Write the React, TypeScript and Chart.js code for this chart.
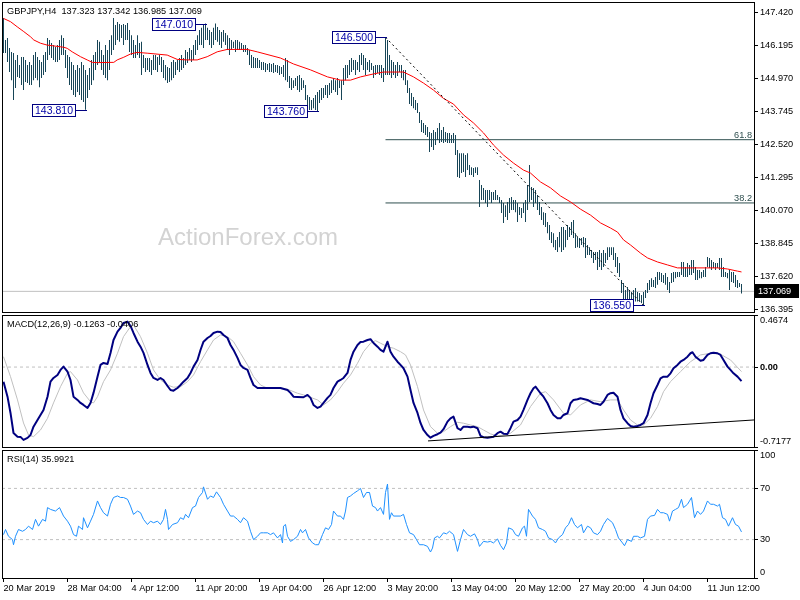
import React, { useEffect, useRef } from 'react';
import { Chart, registerables } from 'chart.js';

Chart.register(...registerables);

const FONT_FAMILY = '"Liberation Sans", Arial, sans-serif';
const SMALL = 9.2;

const titleText = 'GBPJPY,H4  137.323 137.342 136.985 137.069';
const macdTitle = 'MACD(12,26,9) -0.1263 -0.0406';
const rsiTitle = 'RSI(14) 35.9921';
const watermark = 'ActionForex.com';

const xTickIndex = [0, 32, 64, 96, 128, 160, 192, 224, 256, 288, 320, 352];
const xTickLabels = ['20 Mar 2019', '28 Mar 04:00', '4 Apr 12:00', '11 Apr 20:00', '19 Apr 04:00', '26 Apr 12:00', '3 May 20:00', '13 May 04:00', '20 May 12:00', '27 May 20:00', '4 Jun 04:00', '11 Jun 12:00'];

const priceTicks = [147.42, 146.195, 144.97, 143.745, 142.52, 141.295, 140.07, 138.845, 137.62, 136.395];
const macdTicks = [0.4674, 0, -0.7177];
const macdTickLabels = ['0.4674', '0.00', '-0.7177'];
const rsiTicks = [100, 70, 30, 0];
const rsiTickLabels = ['100', '70', '30', '0'];
const rsiLevels = [70, 30];

const lastPrice = 137.069;
const swingPoints = [
  { bar: 41, price: 143.81 },
  { bar: 101, price: 147.01 },
  { bar: 157, price: 143.76 },
  { bar: 191, price: 146.5 },
  { bar: 320, price: 136.55 },
];
const fibFrom = { bar: 191, price: 146.5 };
const fibTo = { bar: 320, price: 136.55 };
const fibLevels = [61.8, 38.2];
const macdTrend = [[212.25, -0.663], [375.25, -0.475]];

const barHigh = [
  147.22,146.40,146.47,146.10,145.95,145.92,145.66,145.84,145.47,145.77,
  145.77,145.66,145.47,145.58,145.47,145.84,145.95,145.77,145.66,145.58,
  145.84,145.95,146.47,146.40,146.29,146.21,146.14,146.21,146.40,146.58,
  146.47,146.03,145.84,145.77,145.58,145.47,145.29,145.47,145.36,145.58,
  145.47,145.29,145.10,145.36,145.66,145.84,145.95,146.40,146.33,146.03,
  145.84,146.21,146.03,146.40,146.58,147.22,146.96,147.07,146.99,146.96,
  146.99,146.96,147.03,146.77,146.58,146.40,146.21,146.58,146.29,146.33,
  145.84,145.73,145.73,145.73,145.66,145.84,145.84,145.77,145.84,145.77,
  145.66,145.47,145.40,145.36,145.58,145.66,145.58,145.66,145.73,145.84,
  145.73,146.03,145.95,146.10,146.03,146.21,146.40,146.58,146.77,146.85,
  146.96,147.01,146.85,146.77,146.70,146.85,147.01,146.88,146.77,146.70,
  146.77,146.66,146.58,146.47,146.40,146.33,146.40,146.40,146.33,146.29,
  146.21,146.21,146.10,146.03,145.84,145.77,145.73,145.73,145.66,145.58,
  145.58,145.55,145.51,145.55,145.51,145.55,145.47,145.47,145.43,145.40,
  145.47,145.73,145.66,145.06,144.99,144.91,144.99,145.06,145.10,144.99,
  144.91,144.73,144.36,144.28,144.17,144.25,144.36,144.47,144.54,144.62,
  144.62,144.73,144.73,144.80,144.91,144.99,144.91,144.99,144.91,144.91,
  145.36,145.47,145.47,145.66,145.73,145.66,145.66,145.58,145.84,145.92,
  145.84,145.73,145.58,145.66,145.55,145.43,145.47,145.47,145.47,145.47,
  145.36,146.50,146.40,145.84,145.66,145.58,145.47,145.58,145.47,145.47,
  145.29,145.29,144.91,144.62,144.43,144.28,144.17,144.06,143.73,143.43,
  143.32,143.24,143.17,142.98,142.95,143.06,142.98,143.13,143.32,143.06,
  143.17,142.98,142.95,142.95,142.87,142.95,142.87,142.32,142.20,142.20,
  142.20,142.13,142.20,141.76,141.68,141.65,141.68,141.68,141.20,141.02,
  140.91,140.83,140.83,140.83,140.76,140.76,140.83,140.65,140.57,140.46,
  140.35,140.27,140.39,140.53,140.57,140.46,140.46,140.35,140.20,140.16,
  140.35,140.46,141.02,141.76,140.94,140.91,140.83,140.65,140.39,140.20,
  140.01,139.98,139.64,139.53,139.27,139.23,138.98,139.09,139.27,139.46,
  139.46,139.35,139.53,139.46,139.64,139.72,139.23,139.09,139.05,139.05,
  139.09,139.05,138.79,138.71,138.60,138.53,138.53,138.53,138.60,138.49,
  138.60,138.49,138.71,138.71,138.71,138.71,138.49,138.34,138.12,137.49,
  137.38,137.12,137.23,137.12,137.05,137.12,137.19,137.05,137.01,136.93,
  137.05,137.12,137.38,137.49,137.56,137.49,137.60,137.79,137.79,137.75,
  137.68,137.75,137.60,137.42,137.75,137.79,137.79,137.79,137.79,138.16,
  138.16,137.97,138.12,138.05,138.23,138.23,137.97,137.86,137.86,137.79,
  137.86,137.97,138.34,138.31,138.23,138.16,138.12,138.12,138.31,138.31,
  137.97,137.79,137.75,137.86,137.79,137.79,137.68,137.49,137.38,137.34,
];

const barLow = [
  145.92,145.92,145.58,145.21,144.91,144.17,144.62,145.03,144.99,144.73,
  144.54,144.84,144.80,144.73,144.73,144.91,144.99,144.91,144.65,144.99,
  145.10,145.21,145.66,145.84,145.73,145.66,145.58,145.58,145.66,145.84,
  145.84,145.36,144.99,144.73,144.54,144.36,144.28,144.47,144.36,144.17,
  144.10,143.81,144.25,144.54,144.73,144.91,145.29,145.47,145.58,145.29,
  145.10,144.99,144.91,145.29,145.84,146.03,146.21,146.40,146.33,146.47,
  146.21,146.40,146.40,145.95,145.84,145.73,145.73,145.84,145.73,145.10,
  145.36,145.21,145.29,145.21,145.10,145.29,145.29,145.21,145.47,145.21,
  144.99,144.91,144.80,144.84,144.91,144.99,145.10,145.29,145.21,145.29,
  145.36,145.47,145.55,145.66,145.58,145.66,145.84,146.03,146.21,146.21,
  146.10,146.40,146.40,146.21,146.10,146.21,146.40,146.33,146.21,146.10,
  146.33,146.21,146.03,145.84,146.03,146.10,145.95,146.03,146.03,146.03,
  145.95,145.95,145.84,145.47,145.36,145.36,145.36,145.36,145.36,145.29,
  145.29,145.21,145.29,145.21,145.21,145.17,145.21,145.17,145.10,145.14,
  145.03,144.91,144.84,144.62,144.54,144.62,144.69,144.54,144.47,144.54,
  144.62,144.17,143.87,143.80,143.80,143.87,143.80,143.76,144.06,144.17,
  144.25,144.36,144.25,144.36,144.43,144.54,144.47,144.36,144.62,144.17,
  144.73,144.91,144.99,145.10,145.21,145.29,145.10,145.29,145.21,145.47,
  145.29,145.10,145.29,145.21,145.29,144.99,145.10,145.17,145.10,144.99,
  144.84,145.10,145.10,145.10,144.99,145.10,144.99,145.06,145.21,144.99,
  144.91,144.73,144.43,144.02,143.95,143.87,143.80,143.69,143.32,142.98,
  142.95,142.87,142.80,142.24,142.43,142.32,142.50,142.69,142.58,142.61,
  142.58,142.61,142.58,142.58,142.58,142.58,142.13,141.31,141.28,141.46,
  141.50,141.31,141.57,141.39,141.39,141.31,141.46,141.39,140.20,140.46,
  140.46,140.35,140.20,140.46,140.35,140.46,140.46,140.46,140.35,139.98,
  139.61,139.83,139.72,139.98,140.09,140.09,140.01,139.64,139.90,139.79,
  139.98,139.64,140.09,140.39,140.46,140.20,140.35,140.09,139.90,139.72,
  139.53,139.46,139.23,138.98,138.86,138.71,138.60,138.53,138.71,138.53,
  138.60,138.71,138.98,139.09,139.16,139.05,138.68,138.71,138.68,138.79,
  138.71,138.31,138.42,138.42,138.31,138.12,138.23,137.86,137.97,137.86,
  137.97,138.12,138.23,138.34,138.42,138.23,137.97,137.75,137.60,137.01,
  136.75,136.69,136.69,136.69,136.69,136.75,136.69,136.69,136.69,136.64,
  136.55,136.82,137.01,137.12,137.23,137.23,137.19,137.31,137.49,137.42,
  137.38,137.31,137.12,137.01,137.38,137.42,137.56,137.60,137.60,137.68,
  137.60,137.60,137.60,137.68,137.68,137.75,137.49,137.49,137.56,137.56,
  137.60,137.60,137.97,137.94,137.86,137.94,137.86,137.94,137.86,137.60,
  137.60,137.60,137.56,137.12,137.42,137.38,137.23,137.19,137.23,136.99,
];

const maPoints = [
  [0,147.20],[3.5,147.08],[6.85,146.89],[10.15,146.71],[13.5,146.52],[15.15,146.40],[18.5,146.28],[21.85,146.21],
  [25.15,146.18],[30.15,146.13],[31.85,146.09],[34.35,145.96],[38.5,145.78],[41.85,145.66],[44.35,145.57],[46.85,145.56],
  [55.15,145.57],[56.85,145.66],[60.15,145.76],[63.5,145.88],[66.85,145.94],[71.85,145.91],[81.85,145.84],[86.85,145.68],
  [91.85,145.66],[96.85,145.66],[101.85,145.78],[106.85,145.96],[111.85,146.05],[121.85,146.05],[126.85,145.96],
  [138.5,145.73],[145,145.51],[153.5,145.29],[162,145.03],[168.5,144.91],[173.5,144.91],[178.5,145.03],[185,145.14],
  [190,145.21],[200,145.21],[205,145.03],[210,144.80],[215,144.54],[220,144.23],[225,144.02],[230,143.62],[235,143.32],
  [240,142.95],[245,142.50],[250,142.13],[255,141.83],[260,141.57],[263.5,141.46],[268.5,141.13],[273.5,140.91],
  [278.5,140.61],[283.5,140.39],[288.5,140.12],[293.5,139.90],[298.5,139.61],[303.5,139.42],[307,139.27],[310,138.98],
  [313.5,138.79],[318.5,138.49],[322,138.31],[327,138.16],[332,138.05],[337,137.94],[357,137.94],[362,137.90],
  [367,137.82],[369,137.79],
];

const macdPoints = [
  [0,-0.131],[2,-0.266],[3.5,-0.412],[5,-0.592],[7,-0.625],[8.5,-0.627],[10,-0.654],[12,-0.636],[13.5,-0.610],[15,-0.535],
  [17,-0.475],[18.5,-0.430],[20,-0.385],[22,-0.266],[23.5,-0.131],[25,-0.098],[27,-0.071],[28.5,-0.026],[30,0.004],[32,-0.041],
  [33.5,-0.116],[35,-0.266],[37,-0.295],[38.5,-0.322],[40,-0.340],[42,-0.367],[43.5,-0.322],[45,-0.232],[47,-0.086],[48.5,0.019],
  [50,0.037],[52,0.028],[53.5,0.127],[55,0.243],[57,0.318],[58.5,0.351],[60,0.396],[62,0.408],[63.5,0.369],[65,0.306],
  [67,0.228],[68.5,0.183],[70,0.127],[72,0.019],[73.5,-0.053],[75,-0.098],[77,-0.116],[78.5,-0.098],[80,-0.116],[82,-0.170],
  [83.5,-0.206],[85,-0.212],[87,-0.188],[88.5,-0.161],[90,-0.131],[92,-0.098],[93.5,-0.053],[95,0.004],[97,0.064],[98.5,0.153],
  [100,0.228],[102,0.261],[103.5,0.279],[105,0.306],[107,0.318],[108.5,0.315],[110,0.288],[112,0.261],[113.5,0.198],[115,0.154],
  [117,0.082],[118.5,0.019],[120,-0.008],[122,-0.026],[123.5,-0.098],[125,-0.161],[127,-0.188],[132,-0.188],[138.5,-0.188],[142,-0.206],
  [143.5,-0.232],[145,-0.266],[147,-0.268],[150,-0.271],[152,-0.250],[153.5,-0.277],[155,-0.340],[157,-0.367],[158.5,-0.355],[160,-0.322],
  [162,-0.277],[163.5,-0.250],[165,-0.188],[167,-0.131],[168.5,-0.116],[170,-0.098],[172,-0.053],[173.5,0.064],[175,0.138],[177,0.198],
  [178.5,0.225],[180,0.228],[182,0.243],[183.5,0.250],[185,0.216],[187,0.183],[188.5,0.154],[190,0.138],[192,0.228],[193.5,0.138],
  [195,0.093],[197,0.048],[198.5,0.019],[200,-0.011],[202,-0.086],[203.5,-0.206],[205,-0.322],[207,-0.412],[208.5,-0.502],[210,-0.565],
  [212,-0.610],[213.5,-0.634],[215,-0.618],[217,-0.603],[218.5,-0.589],[220,-0.558],[222,-0.490],[223.5,-0.460],[225,-0.445],[227,-0.549],
  [228.5,-0.565],[230,-0.535],[232,-0.535],[233.5,-0.540],[235,-0.535],[237,-0.549],[238.5,-0.618],[240,-0.630],[242,-0.634],[243.5,-0.630],
  [245,-0.625],[247,-0.594],[248.5,-0.580],[250,-0.598],[252,-0.600],[253.5,-0.549],[255,-0.490],[257,-0.475],[258.5,-0.445],[260,-0.385],
  [262,-0.295],[263.5,-0.235],[265,-0.190],[266,-0.176],[268.5,-0.235],[270,-0.266],[272,-0.325],[273.5,-0.385],[275,-0.430],[277,-0.460],
  [278.5,-0.460],[280,-0.430],[282,-0.415],[283.5,-0.325],[285,-0.295],[287,-0.289],[288.5,-0.280],[290,-0.286],[292,-0.295],[293.5,-0.311],
  [295,-0.325],[297,-0.331],[298.5,-0.340],[300,-0.311],[302,-0.250],[303.5,-0.235],[305,-0.230],[307,-0.266],[308.5,-0.385],[310,-0.460],
  [312,-0.504],[313.5,-0.529],[315,-0.535],[317,-0.529],[318.5,-0.520],[320,-0.504],[322,-0.430],[323.5,-0.325],[325,-0.235],[327,-0.161],
  [328.5,-0.101],[330,-0.086],[332,-0.086],[333.5,-0.056],[335,-0.011],[337,0.019],[338.5,0.048],[340,0.064],[342,0.093],[343.5,0.124],
  [344.5,0.133],[346,0.093],[348.5,0.057],[350,0.064],[352,0.109],[353.5,0.124],[355,0.129],[357,0.124],[358.5,0.109],[360,0.064],
  [362,0.004],[363.5,-0.026],[365,-0.056],[367,-0.086],[369,-0.1263],
];

const signalPoints = [
  [0,0.093],[3.5,-0.086],[7,-0.295],[10,-0.502],[12.5,-0.610],[15,-0.625],[18.5,-0.565],[22,-0.460],[25,-0.322],[28.5,-0.176],
  [32,-0.056],[33.5,-0.041],[37,-0.116],[40,-0.232],[43.5,-0.311],[45,-0.322],[47,-0.266],[50,-0.131],[53.5,-0.026],[57,0.124],
  [60,0.273],[63.5,0.363],[65,0.378],[68.5,0.273],[72,0.124],[75,-0.026],[78.5,-0.116],[82,-0.161],[85,-0.181],[88.5,-0.176],
  [92,-0.131],[95,-0.071],[98.5,0.048],[102,0.154],[105,0.243],[108.5,0.288],[112,0.273],[115,0.228],[118.5,0.124],[122,0.019],
  [125,-0.086],[128.5,-0.161],[132,-0.190],[137,-0.190],[142,-0.199],[147,-0.235],[150,-0.250],[157,-0.295],[160,-0.340],[163.5,-0.295],
  [167,-0.221],[170,-0.145],[173.5,-0.071],[177,0.034],[180,0.138],[183.5,0.214],[186,0.237],[188.5,0.214],[192,0.183],[195,0.169],
  [198.5,0.138],[201,0.109],[203.5,0.019],[207,-0.176],[210,-0.385],[213.5,-0.535],[217,-0.594],[220,-0.580],[223.5,-0.535],[227,-0.496],
  [230,-0.504],[233.5,-0.520],[237,-0.535],[240,-0.565],[243.5,-0.600],[247,-0.618],[250,-0.610],[253.5,-0.594],[258.5,-0.520],[263.5,-0.355],
  [268.5,-0.235],[271,-0.221],[275,-0.295],[280,-0.415],[283.5,-0.430],[288.5,-0.340],[293.5,-0.295],[298.5,-0.311],[303.5,-0.295],[307,-0.295],
  [310,-0.385],[313.5,-0.475],[317,-0.520],[320,-0.520],[323.5,-0.460],[327,-0.355],[330,-0.221],[333.5,-0.131],[338.5,-0.041],[343.5,0.048],
  [348.5,0.109],[353.5,0.124],[358.5,0.115],[363.5,0.064],[369,-0.0406],
];

const rsiPoints = [
  [0,33.9],[1,37.9],[2.5,32.6],[4.5,30],[5,26],[6,32.6],[7.5,37.9],[9.5,36.5],[11,37.9],[12.5,40.5],[14.5,37.9],[16,45.8],
  [17.5,40.5],[19.5,45.8],[21,44.4],[22,55],[23.5,53.6],[26,52.3],[28,55],[30,48.4],[32,44.4],[33.5,40.5],[35,33.9],[36.5,32.6],
  [37.5,40.5],[39.5,37.9],[40,47.1],[42,39.2],[43.5,44.4],[45,49.7],[47,60.2],[48.5,55],[50,51],[52,48.4],[53.5,57.6],[55,62.9],
  [57,64.1],[58.5,62.9],[60,62.9],[62,61.5],[63.5,56.2],[65,49.7],[67,52.3],[68.5,51],[70,45.8],[72,41.8],[73.5,44.4],[75,43.2],
  [77,44.4],[78.5,41.8],[80,45.8],[81,53.6],[82,45.8],[82.5,37.9],[84.5,41.8],[87,43.2],[88.5,47.1],[90,45.8],[91,49.7],[92.5,47.1],
  [94.5,55],[96,56.2],[97.5,62.9],[99.5,66.8],[100,71.2],[102,61.5],[103.5,64.1],[105,62.9],[106.5,67.3],[108.5,62.9],[110,57.6],
  [112,52.3],[113.5,48.4],[115,48.4],[117,45.8],[118.5,43.2],[120,47.1],[122,44.4],[123.5,36.5],[125,30],[127,32.6],[128.5,35.3],
  [130,35.3],[132,35.3],[133.5,33.9],[135,35.3],[137,31.3],[138.5,33.9],[139.5,27.4],[140,40.5],[141,41.8],[142,32.6],[143.5,28.6],
  [145,30],[147,32.6],[148.5,37.9],[149.5,35.3],[151,37.9],[152.5,31.3],[154.5,27.4],[156,26],[157.5,26],[159.5,33.9],[161,39.2],
  [162.5,37.9],[164,41.8],[165,52.3],[167,48.4],[168.5,48.4],[170,45.8],[171,52.3],[172,62.9],[173.5,64.1],[175,66],[177,68.1],
  [178.5,70],[180,62.9],[181.5,66.8],[183,66.8],[184.5,56.2],[186,55],[187,52.3],[188.5,55],[190,49.7],[191,66.8],[192,73.4],
  [193,45.8],[194,51],[195,48.4],[198.5,48.4],[200,49.7],[201.5,41.8],[203,35.3],[205,33.9],[206.5,30],[208,26],[210,26],
  [212,24.7],[213.5,20.3],[214.5,23.4],[215.5,31.3],[217,32.6],[218,31.3],[220,35.3],[221.5,34.5],[223,36.5],[225,33.9],[226,27.4],
  [227,20.8],[228.5,30],[230,37.9],[232,33.9],[233.5,32.6],[235.5,34.5],[237,30],[238,24.7],[240,28.6],[242,28.1],[243.5,28.6],
  [245,27.4],[247,30.5],[248.5,25.5],[250,22.1],[251.5,27.4],[252.5,39.2],[254.5,37.9],[256,33.9],[257.5,32.6],[259.5,39.2],
  [260.5,40.5],[261.5,32.6],[262.5,53.6],[264.5,48.4],[266,45.8],[267.5,39.2],[269.5,37.9],[271,36.5],[272.5,31.3],[274.5,30],
  [276,27.4],[277.5,31.3],[279.5,33.9],[281,39.2],[282.5,41.8],[284,47.1],[285.5,41.8],[287,39.2],[289,41.8],[290,35.3],[292,40.5],
  [293.5,39.2],[295,35.3],[297,33.9],[298.5,36.5],[300,41.8],[302,46.5],[304.5,43.2],[306,37.9],[307.5,31.3],[309.5,27.4],
  [310.5,25.2],[312,30],[314,28.6],[315,32.6],[317,32.6],[318.5,31.3],[320.5,32.6],[322,45.8],[323.5,48.4],[325.5,48.9],[327,53.6],
  [328.5,51],[330,51],[332,49.7],[333,44.4],[334.5,52.3],[336,53.6],[337.5,55],[339,61.5],[340,55],[342,57.6],[343,60.2],[344,62.9],
  [345.5,47.1],[347,52.3],[348.5,49.7],[350,52.3],[352,60.2],[353.5,57.6],[355,57.6],[357,56.2],[358,57.6],[359.5,47.1],[361,45.8],
  [362.5,40.5],[364.5,47.1],[366,41.8],[367.5,40.5],[369,35.99],
];

const X_MIN = -0.75;
const X_MAX = 375.25;

const toXY = (pts: number[][]) => pts.map(([x, y]) => ({ x, y }));
const fibPrice = (lv: number) => fibTo.price + (lv / 100) * (fibFrom.price - fibTo.price);
const smallFont = (w = 'normal') => `${w} ${SMALL}px ${FONT_FAMILY}`;

const framePlugin = {
  id: 'frame',
  afterDraw(chart: any) {
    const { ctx, chartArea: a } = chart;
    ctx.save();
    ctx.strokeStyle = '#000';
    ctx.lineWidth = 1;
    ctx.strokeRect(Math.round(a.left) + 0.5, Math.round(a.top) + 0.5, Math.round(a.right - a.left), Math.round(a.bottom - a.top));
    ctx.restore();
  },
};

function rightAxis(min: number, max: number, ticks: number[], labelFn: (v: number, i: number) => any, fontFn?: any) {
  return {
    type: 'linear',
    position: 'right',
    min,
    max,
    afterBuildTicks: (s: any) => {
      s.ticks = ticks.map((v) => ({ value: v }));
    },
    afterFit: (s: any) => {
      s.width = 46;
      s.paddingTop = 0;
      s.paddingBottom = 0;
    },
    ticks: {
      autoSkip: false,
      padding: 2,
      color: '#000',
      font: fontFn || { family: FONT_FAMILY, size: SMALL },
      callback: (v: any, i: number) => labelFn(Number(v), i),
    },
    grid: { drawOnChartArea: false, drawTicks: true, tickLength: 4, color: '#000' },
    border: { display: false },
  };
}

const hiddenX = {
  type: 'linear',
  min: X_MIN,
  max: X_MAX,
  display: false,
  offset: false,
  grid: { offset: false },
};

const baseOptions = {
  animation: false,
  responsive: false,
  maintainAspectRatio: false,
  events: [],
  plugins: { legend: { display: false }, tooltip: { enabled: false } },
  elements: { point: { radius: 0 }, line: { tension: 0 } },
};

export default function App() {
  const mainRef = useRef<HTMLCanvasElement>(null);
  const macdRef = useRef<HTMLCanvasElement>(null);
  const rsiRef = useRef<HTMLCanvasElement>(null);

  useEffect(() => {
    const mainOverlay = {
      id: 'mainOverlay',
      beforeDatasetsDraw(chart: any) {
        const { ctx } = chart;
        ctx.save();
        ctx.font = `24px ${FONT_FAMILY}`;
        ctx.fillStyle = '#D3D3D3';
        ctx.textBaseline = 'alphabetic';
        ctx.textAlign = 'left';
        ctx.fillText(watermark, 158, 245);
        ctx.restore();
      },
      afterDraw(chart: any) {
        const { ctx, chartArea: a, scales } = chart;
        const xs = scales.x;
        const ys = scales.y;
        ctx.save();
        ctx.font = smallFont();
        ctx.fillStyle = '#000';
        ctx.textAlign = 'left';
        ctx.textBaseline = 'middle';
        ctx.fillText(titleText, 7, 11);

        ctx.fillStyle = '#2F4F4F';
        ctx.textAlign = 'right';
        ctx.textBaseline = 'alphabetic';
        fibLevels.forEach((lv) => {
          const py = ys.getPixelForValue(fibPrice(lv));
          ctx.fillText(lv.toFixed(1), a.right - 2, py - 2);
        });

        ctx.font = `10.5px ${FONT_FAMILY}`;
        swingPoints.forEach((sp) => {
          const px = Math.round(xs.getPixelForValue(sp.bar));
          const py = Math.round(ys.getPixelForValue(sp.price));
          const text = sp.price.toFixed(3);
          const w = Math.ceil(ctx.measureText(text).width) + 6;
          const h = 13;
          const right = px - 10;
          const x0 = right - w;
          const y0 = py - 6;
          ctx.fillStyle = '#fff';
          ctx.fillRect(x0, y0, w, h);
          ctx.strokeStyle = '#000080';
          ctx.lineWidth = 1;
          ctx.strokeRect(x0 + 0.5, y0 + 0.5, w - 1, h - 1);
          ctx.beginPath();
          ctx.moveTo(right, py + 0.5);
          ctx.lineTo(px + 1, py + 0.5);
          ctx.stroke();
          ctx.fillStyle = '#0000A8';
          ctx.textAlign = 'center';
          ctx.textBaseline = 'middle';
          ctx.fillText(text, x0 + w / 2, py + 1);
        });

        const ly = Math.round(ys.getPixelForValue(lastPrice));
        ctx.fillStyle = '#000';
        ctx.fillRect(a.right + 1, ly - 7, 44, 14);
        ctx.fillStyle = '#fff';
        ctx.font = smallFont();
        ctx.textAlign = 'left';
        ctx.textBaseline = 'middle';
        ctx.fillText(lastPrice.toFixed(3), a.right + 4, ly + 0.5);
        ctx.restore();
      },
    };

    const main = new Chart(mainRef.current as HTMLCanvasElement, {
      type: 'line',
      data: {
        datasets: [
          {
            type: 'line',
            data: [{ x: X_MIN, y: lastPrice }, { x: X_MAX, y: lastPrice }],
            borderColor: '#C0C0C0',
            borderWidth: 1,
            pointRadius: 0,
            order: 6,
          },
          ...fibLevels.map((lv) => ({
            type: 'line',
            data: [{ x: fibFrom.bar, y: fibPrice(lv) }, { x: X_MAX, y: fibPrice(lv) }],
            borderColor: '#2F4F4F',
            borderWidth: 1,
            pointRadius: 0,
            order: 5,
          })),
          {
            type: 'bar',
            data: barLow.map((lo, i) => ({ x: i, y: [lo, barHigh[i]] })),
            backgroundColor: '#174557',
            borderWidth: 0,
            inflateAmount: 0,
            barThickness: 1,
            grouped: false,
            order: 4,
          },
          {
            type: 'line',
            data: toXY(maPoints),
            borderColor: '#FF0000',
            borderWidth: 1,
            pointRadius: 0,
            order: 3,
          },
          {
            type: 'line',
            data: [{ x: fibFrom.bar, y: fibFrom.price }, { x: fibTo.bar, y: fibTo.price }],
            borderColor: '#000',
            borderWidth: 1,
            borderDash: [2, 3],
            pointRadius: 0,
            order: 2,
          },
        ] as any,
      },
      options: {
        ...baseOptions,
        layout: { padding: { left: 2, top: 2, right: 0, bottom: 288 } },
        scales: {
          x: hiddenX,
          y: rightAxis(136.303, 147.81, priceTicks, (v) => v.toFixed(3)),
        },
      } as any,
      plugins: [framePlugin, mainOverlay],
    });

    const macdOverlay = {
      id: 'macdOverlay',
      afterDraw(chart: any) {
        const { ctx, chartArea: a } = chart;
        ctx.save();
        ctx.font = smallFont();
        ctx.fillStyle = '#000';
        ctx.textAlign = 'left';
        ctx.textBaseline = 'middle';
        ctx.fillText(macdTitle, a.left + 5, a.top + 9);
        ctx.restore();
      },
    };

    const macd = new Chart(macdRef.current as HTMLCanvasElement, {
      type: 'line',
      data: {
        datasets: [
          {
            data: [{ x: X_MIN, y: 0 }, { x: X_MAX, y: 0 }],
            borderColor: '#C0C0C0',
            borderWidth: 1,
            borderDash: [3, 3],
            pointRadius: 0,
            order: 5,
          },
          {
            data: toXY(signalPoints),
            borderColor: '#C0C0C0',
            borderWidth: 1,
            pointRadius: 0,
            order: 4,
          },
          {
            data: toXY(macdPoints),
            borderColor: '#000080',
            borderWidth: 2,
            borderJoinStyle: 'round',
            pointRadius: 0,
            order: 3,
          },
          {
            data: toXY(macdTrend),
            borderColor: '#000',
            borderWidth: 1,
            pointRadius: 0,
            order: 2,
          },
        ] as any,
      },
      options: {
        ...baseOptions,
        layout: { padding: { left: 2, top: 315, right: 0, bottom: 153 } },
        scales: {
          x: hiddenX,
          y: rightAxis(
            -0.7177,
            0.4674,
            macdTicks,
            (v, i) => {
              const lab = macdTickLabels[i];
              if (i === 0) return ['', lab];
              if (i === macdTicks.length - 1) return [lab, ''];
              return lab;
            },
            (ctx: any) => ({
              family: FONT_FAMILY,
              size: SMALL,
              weight: ctx.tick && ctx.tick.value === 0 ? 'bold' : 'normal',
            })
          ),
        },
      } as any,
      plugins: [framePlugin, macdOverlay],
    });

    const rsiOverlay = {
      id: 'rsiOverlay',
      afterDraw(chart: any) {
        const { ctx, chartArea: a } = chart;
        ctx.save();
        ctx.font = smallFont();
        ctx.fillStyle = '#000';
        ctx.textAlign = 'left';
        ctx.textBaseline = 'middle';
        ctx.fillText(rsiTitle, a.left + 5, a.top + 9);
        ctx.restore();
      },
    };

    const rsi = new Chart(rsiRef.current as HTMLCanvasElement, {
      type: 'line',
      data: {
        datasets: [
          ...rsiLevels.map((lv) => ({
            data: [{ x: X_MIN, y: lv }, { x: X_MAX, y: lv }],
            borderColor: '#C0C0C0',
            borderWidth: 1,
            borderDash: [3, 3],
            pointRadius: 0,
            order: 5,
          })),
          {
            data: toXY(rsiPoints),
            borderColor: '#1E90FF',
            borderWidth: 1,
            pointRadius: 0,
            order: 2,
          },
        ] as any,
      },
      options: {
        ...baseOptions,
        layout: { padding: { left: 2, top: 450, right: 0, bottom: 0 } },
        scales: {
          x: {
            type: 'linear',
            position: 'bottom',
            min: X_MIN,
            max: X_MAX,
            offset: false,
            afterBuildTicks: (s: any) => {
              s.ticks = xTickIndex.map((v) => ({ value: v }));
            },
            afterFit: (s: any) => {
              s.height = 22;
              s.paddingLeft = 0;
              s.paddingRight = 0;
            },
            ticks: {
              autoSkip: false,
              maxRotation: 0,
              minRotation: 0,
              align: 'start',
              padding: 1,
              color: '#000',
              font: { family: FONT_FAMILY, size: SMALL },
              callback: (_v: any, i: number) => xTickLabels[i],
            },
            grid: { drawOnChartArea: false, drawTicks: true, tickLength: 4, color: '#000', offset: false },
            border: { display: false },
          },
          y: rightAxis(0, 100, rsiTicks, (_v, i) => {
            const lab = rsiTickLabels[i];
            if (i === 0) return ['', lab];
            if (i === rsiTicks.length - 1) return [lab, ''];
            return lab;
          }),
        },
      } as any,
      plugins: [framePlugin, rsiOverlay],
    });

    return () => {
      main.destroy();
      macd.destroy();
      rsi.destroy();
    };
  }, []);

  const canvasStyle: React.CSSProperties = { position: 'absolute', left: 0, top: 0 };
  return (
    <div style={{ position: 'absolute', left: 0, top: 0, width: 800, height: 600, background: '#fff', overflow: 'hidden' }}>
      <canvas ref={mainRef} width={800} height={600} style={canvasStyle} />
      <canvas ref={macdRef} width={800} height={600} style={canvasStyle} />
      <canvas ref={rsiRef} width={800} height={600} style={canvasStyle} />
    </div>
  );
}
